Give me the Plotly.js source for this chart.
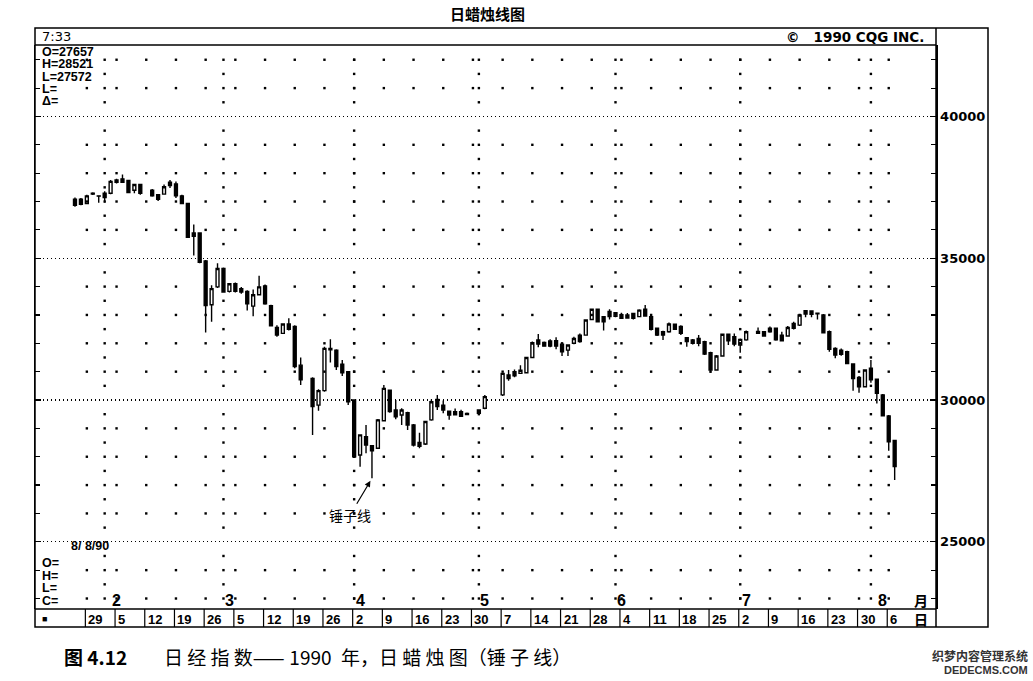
<!DOCTYPE html>
<html><head><meta charset="utf-8">
<script src="https://cdn.plot.ly/plotly-3.0.1.min.js"></script>
<style>html,body{margin:0;padding:0;background:#fff;}#chart{width:1033px;height:681px;}</style>
</head><body><div id="chart"></div>
<script>
// ---- data (Nikkei 225 daily, 1990) ----
const dates = ['1990-01-25','1990-01-26','1990-01-29','1990-01-30','1990-01-31','1990-02-01','1990-02-02',
'1990-02-05','1990-02-06','1990-02-07','1990-02-08','1990-02-09','1990-02-13','1990-02-14','1990-02-15','1990-02-16',
'1990-02-19','1990-02-20','1990-02-21','1990-02-22','1990-02-23','1990-02-26','1990-02-27','1990-02-28','1990-03-01','1990-03-02',
'1990-03-05','1990-03-06','1990-03-07','1990-03-08','1990-03-09','1990-03-12','1990-03-13','1990-03-14','1990-03-15','1990-03-16',
'1990-03-19','1990-03-20','1990-03-22','1990-03-23','1990-03-26','1990-03-27','1990-03-28','1990-03-29','1990-03-30',
'1990-04-02','1990-04-03','1990-04-04','1990-04-05','1990-04-06','1990-04-09','1990-04-10','1990-04-11','1990-04-12','1990-04-13',
'1990-04-16','1990-04-17','1990-04-18','1990-04-19','1990-04-20','1990-04-23','1990-04-24','1990-04-25','1990-04-26','1990-04-27',
'1990-05-01','1990-05-02','1990-05-07','1990-05-08','1990-05-09','1990-05-10','1990-05-11','1990-05-14','1990-05-15','1990-05-16',
'1990-05-17','1990-05-18','1990-05-21','1990-05-22','1990-05-23','1990-05-24','1990-05-25','1990-05-28','1990-05-29','1990-05-30',
'1990-05-31','1990-06-01','1990-06-04','1990-06-05','1990-06-06','1990-06-07','1990-06-08','1990-06-11','1990-06-12','1990-06-13',
'1990-06-14','1990-06-15','1990-06-18','1990-06-19','1990-06-20','1990-06-21','1990-06-22','1990-06-25','1990-06-26','1990-06-27',
'1990-06-28','1990-06-29','1990-07-02','1990-07-03','1990-07-05','1990-07-06','1990-07-09','1990-07-10','1990-07-11','1990-07-12',
'1990-07-13','1990-07-16','1990-07-17','1990-07-18','1990-07-19','1990-07-20','1990-07-23','1990-07-24','1990-07-25','1990-07-26',
'1990-07-27','1990-07-30','1990-07-31','1990-08-01','1990-08-02','1990-08-03','1990-08-06','1990-08-07'];
const open = [37080,37080,36930,37260,37200,37290,37290,
37760,37800,37740,37400,37600,37400,37240,37260,37680,
37620,37200,36930,35890,35890,34900,33360,33990,34640,33830,
34100,33930,33830,33310,33710,34020,33330,32560,32350,32680,
32590,31230,30760,29820,30330,31820,31760,31260,31000,
30000,28060,28710,28390,28300,29270,30350,29650,29470,29550,
29120,28500,28450,29300,30020,29820,29610,29590,29590,29530,
29650,29710,30180,30880,31000,30940,30960,31500,32120,32030,
32080,32090,31970,31760,32000,32290,32290,32840,33200,32940,
33120,32950,33010,33000,33050,32940,33200,32940,32530,32410,
32410,32670,32590,32200,32120,32170,32060,31670,31060,31550,
32320,32230,31940,32120,32420,32410,32530,32530,32290,32260,
32700,32640,33150,33140,33060,33000,32410,31820,31760,31700,
31270,30800,30470,31120,30730,30180,29440,28570];
const high = [37140,37120,37240,37330,37210,37360,37760,
37800,37950,37760,37620,37620,37440,37260,37600,37760,
37710,37240,36960,36190,35890,34940,34050,34820,34670,34110,
34140,33990,33870,33900,34380,34070,33360,32640,32700,32880,
32640,31500,30800,30380,31880,32140,31790,31410,31000,
30000,28770,29120,28410,29330,30530,30350,30000,29710,29590,
29150,28850,29270,30020,30180,29980,29630,29700,29660,29560,
29660,30180,30960,31060,31080,31230,31530,32060,32330,32060,
32140,32210,32000,31960,32230,32350,32840,33230,33230,32960,
33200,33100,33080,33070,33080,33200,33350,32960,32560,32440,
32730,32700,32640,32220,32150,32290,32090,31700,31590,32350,
32350,32350,32170,32450,32560,32430,32590,32560,32410,32610,
32760,33030,33170,33160,33070,33030,32450,31860,31820,31740,
31290,30850,31080,31410,30760,30210,29470,28590];
const low = [36820,36870,36900,37230,36960,36970,37260,
37640,37660,37290,37290,37240,37170,37020,37240,37480,
37120,36900,35710,35100,34820,32380,32760,33950,33790,33790,
33790,33750,33160,32950,33690,33360,32600,32230,32330,32450,
31120,30530,28770,29620,30290,31320,31060,30850,29820,
27980,27650,28120,27240,28270,29270,29550,29320,29120,28940,
28360,28300,28410,29270,29650,29530,29300,29460,29410,29470,
29470,29670,30140,30680,30800,30920,30940,31470,31860,31880,
31860,31790,31550,31550,31970,32020,32270,32820,32730,32450,
32840,32920,32870,32870,32840,32920,32940,32450,32260,32120,
32370,32470,32290,31880,31960,31900,31590,30960,31030,31530,
31940,31900,31670,32090,32330,32230,32370,32090,32080,32230,
32490,32610,32920,32920,32840,32350,31700,31470,31560,31270,
30330,30260,30450,30610,29880,29440,28210,27180];
const close = [36870,36900,37200,37290,37190,37140,37710,
37680,37680,37320,37600,37290,37200,37080,37520,37560,
37200,36930,35740,35770,34860,33330,33930,34640,33810,34100,
33830,33810,33390,33710,33990,33390,32620,32290,32680,32490,
31180,30710,29770,30330,31820,31770,31180,30960,29940,
28000,28770,28410,28210,29300,30410,29590,29410,29650,29120,
28410,28370,29240,29940,29770,29650,29470,29480,29430,29490,
29530,30120,30940,30760,30850,31050,31500,32020,31970,31900,
31900,31900,31700,31940,32170,32060,32820,33200,32760,32760,
32940,33080,32880,32890,32880,33170,32960,32490,32290,32290,
32680,32490,32350,32060,32000,32000,31620,31060,31550,32320,
32090,31970,32140,32410,32350,32260,32410,32120,32090,32560,
32530,33000,33030,33020,33040,32370,31790,31590,31610,31290,
30760,30470,31060,30710,30240,29440,28530,27650];

// weekly (Monday) date row, month row
const weekStarts = ['1990-01-29','1990-02-05','1990-02-12','1990-02-19','1990-02-26','1990-03-05','1990-03-12','1990-03-19','1990-03-26',
'1990-04-02','1990-04-09','1990-04-16','1990-04-23','1990-04-30','1990-05-07','1990-05-14','1990-05-21','1990-05-28',
'1990-06-04','1990-06-11','1990-06-18','1990-06-25','1990-07-02','1990-07-09','1990-07-16','1990-07-23','1990-07-30','1990-08-06'];
const weekLabels = ['29','5','12','19','26','5','12','19','26','2','9','16','23','30','7','14','21','28','4','11','18','25','2','9','16','23','30','6'];
const monthLabelDates = ['1990-02-05','1990-03-02','1990-04-03','1990-05-02','1990-06-04','1990-07-03','1990-08-03'];
const monthLabels = ['2','3','4','5','6','7','8'];
const monthStarts = ['1990-02-01','1990-03-01','1990-04-02','1990-05-01','1990-06-01','1990-07-02','1990-08-01'];
const yTicks = [25000,30000,35000,40000];
const yTickLabels = ['25000','30000','35000','40000'];
const infoTop = ['O=27657','H=28521','L=27572','L=','\u0394='];
const infoBottom = ['O=','H=','L=','C='];
const hammerDate = '1990-04-05', hammerLow = 27240;

// ---- helpers ----
const PH = 564; // plot height px
const py = p => 1 - (p - 45) / PH;     // pixel row -> paper y
const px = p => (p - 35) / 901;        // pixel col -> paper x
function sepDate(d){ // just before Monday: previous Friday 18:00 (weekends removed)
  const t = new Date(d + 'T00:00:00Z'); t.setUTCDate(t.getUTCDate() - 3); t.setUTCHours(18);
  return t.toISOString().slice(0,16).replace('T',' ');
}

// sparse grid dots
const dx = [], dy = [];
weekStarts.forEach(d => { for (let v = 23000; v <= 42000; v += 1000) if (v % 5000) { dx.push(d); dy.push(v); } });
monthStarts.forEach(d => { for (let v = 23000; v <= 42000; v += 500) if (v % 5000) { dx.push(d); dy.push(v); } });

const traces = [
  {type:'scatter', mode:'markers', x:dx, y:dy, marker:{symbol:'square', size:2.4, color:'#000'}, hoverinfo:'skip'},
  {type:'candlestick', x:dates, open:open, high:high, low:low, close:close, whiskerwidth:0,
   increasing:{line:{color:'#000', width:1.4}, fillcolor:'#fff'},
   decreasing:{line:{color:'#000', width:1.4}, fillcolor:'#000'}, hoverinfo:'skip'}
];

const sans = 'Liberation Sans, Arial, sans-serif';
const wide = 'DejaVu Sans, sans-serif';
const cjk = 'Noto Sans CJK SC, sans-serif';
const ann = [];
function T(o){ ann.push(Object.assign({showarrow:false, yanchor:'middle', xanchor:'center'}, o)); }
T({xref:'paper', yref:'paper', x:px(487), y:py(14), text:'<b>日蜡烛线图</b>', font:{family:cjk, size:15, color:'#000'}});
T({xref:'paper', yref:'paper', x:0, xshift:5, xanchor:'left', y:py(37), text:'7:33', font:{family:wide, size:13, color:'#000'}});
T({xref:'paper', yref:'paper', x:px(926), xanchor:'right', y:py(37), text:'<b>©\u00a0\u00a0 1990 CQG INC.</b>', font:{family:wide, size:13.5, color:'#000'}});
infoTop.forEach((t,i) => T({xref:'paper', yref:'paper', x:0, xshift:5, xanchor:'left', y:py(52 + i*12.3), text:'<b>'+t+'</b>', font:{family:sans, size:12.5, color:'#000'}}));
T({xref:'paper', yref:'paper', x:px(69), xanchor:'left', y:py(546), text:'<b>8/ 8/90</b>', font:{family:sans, size:12.5, color:'#000'}});
infoBottom.forEach((t,i) => T({xref:'paper', yref:'paper', x:0, xshift:5, xanchor:'left', y:py(563 + i*12.7), text:'<b>'+t+'</b>', font:{family:sans, size:12.5, color:'#000'}}));
monthLabels.forEach((t,i) => T({xref:'x', yref:'paper', x:monthLabelDates[i], y:py(600), text:'<b>'+t+'</b>', font:{family:sans, size:16, color:'#000'}}));
T({xref:'x', yref:'paper', x:'1990-08-13 10:00', y:py(600), text:'<b>月</b>', font:{family:cjk, size:14, color:'#000'}});
weekLabels.forEach((t,i) => T({xref:'x', yref:'paper', x:sepDate(weekStarts[i]), xanchor:'left', xshift:1, y:py(619), text:'<b>'+t+'</b>', font:{family:sans, size:13, color:'#000'}}));
T({xref:'x', yref:'paper', x:'1990-08-13 10:00', y:py(619), text:'<b>日</b>', font:{family:cjk, size:14, color:'#000'}});
T({xref:'paper', yref:'paper', x:px(44), y:py(619), text:'■', font:{family:sans, size:9, color:'#000'}});
ann.push({xref:'x', yref:'y', x:hammerDate, y:hammerLow, text:'锤子线', showarrow:true, arrowhead:2, arrowsize:1, arrowwidth:1.2, arrowcolor:'#000', standoff:3, ax:-22, ay:37, font:{family:cjk, size:14, color:'#000'}});
T({xref:'paper', yref:'paper', x:px(62), xanchor:'left', y:py(656), text:'<b>图 4.12</b>', font:{family:cjk, size:19, color:'#000'}});
T({xref:'paper', yref:'paper', x:px(162), xanchor:'left', y:py(656), text:'日 经 指 数——\u20051990\u2002年，日 蜡 烛 图（锤 子 线）', font:{family:cjk, size:19, color:'#000'}});
T({xref:'paper', yref:'paper', x:px(1030), xanchor:'right', y:py(655), text:'<b>织梦内容管理系统</b>', font:{family:cjk, size:12, color:'#333'}});
T({xref:'paper', yref:'paper', x:px(1030), xanchor:'right', y:py(670), text:'<b>DEDECMS.COM</b>', font:{family:sans, size:11, color:'#333'}});

const L = {color:'#000', width:1.5};
const yBot = py(627), yTop = py(28);
const shapes = [
  {type:'rect', xref:'paper', yref:'paper', x0:0, x1:px(988), y0:yBot, y1:yTop, line:L},
  {type:'line', xref:'paper', yref:'paper', x0:0, x1:1, y0:1, y1:1, line:L},
  {type:'line', xref:'paper', yref:'paper', x0:0, x1:1, y0:0, y1:0, line:L},
  {type:'line', xref:'paper', yref:'paper', x0:1, x1:1, y0:yBot, y1:yTop, line:L}
];
weekStarts.forEach(d => shapes.push({type:'line', xref:'x', yref:'paper', x0:sepDate(d), x1:sepDate(d), y0:yBot, y1:0, line:{color:'#000', width:1.2}}));

const layout = {
  width:1033, height:681, margin:{l:35, r:97, t:45, b:72},
  paper_bgcolor:'#fff', plot_bgcolor:'#fff', showlegend:false,
  xaxis:{type:'date', range:['1990-01-16 06:30','1990-08-15 23:00'], rangebreaks:[{bounds:['sat','mon']}],
    showticklabels:false, ticks:'', showgrid:false, zeroline:false, showline:false, rangeslider:{visible:false}, fixedrange:true},
  yaxis:{side:'right', range:[22630,42520], tickvals:yTicks, ticktext:yTickLabels, ticks:'inside', ticklen:6, tickwidth:1.3, tickcolor:'#000',
    showline:true, linecolor:'#000', linewidth:1.5, mirror:'ticks', showgrid:true, gridcolor:'#000', gridwidth:1.3, griddash:'1px,3px',
    zeroline:false, fixedrange:true,
    minor:{dtick:1000, tick0:0, ticks:'inside', ticklen:5, tickcolor:'#000', tickwidth:1.2, showgrid:false},
    tickfont:{family:wide, size:13, color:'#000', weight:'bold'}},
  shapes:shapes, annotations:ann
};
Plotly.newPlot('chart', traces, layout, {staticPlot:true, displayModeBar:false});
</script></body></html>
